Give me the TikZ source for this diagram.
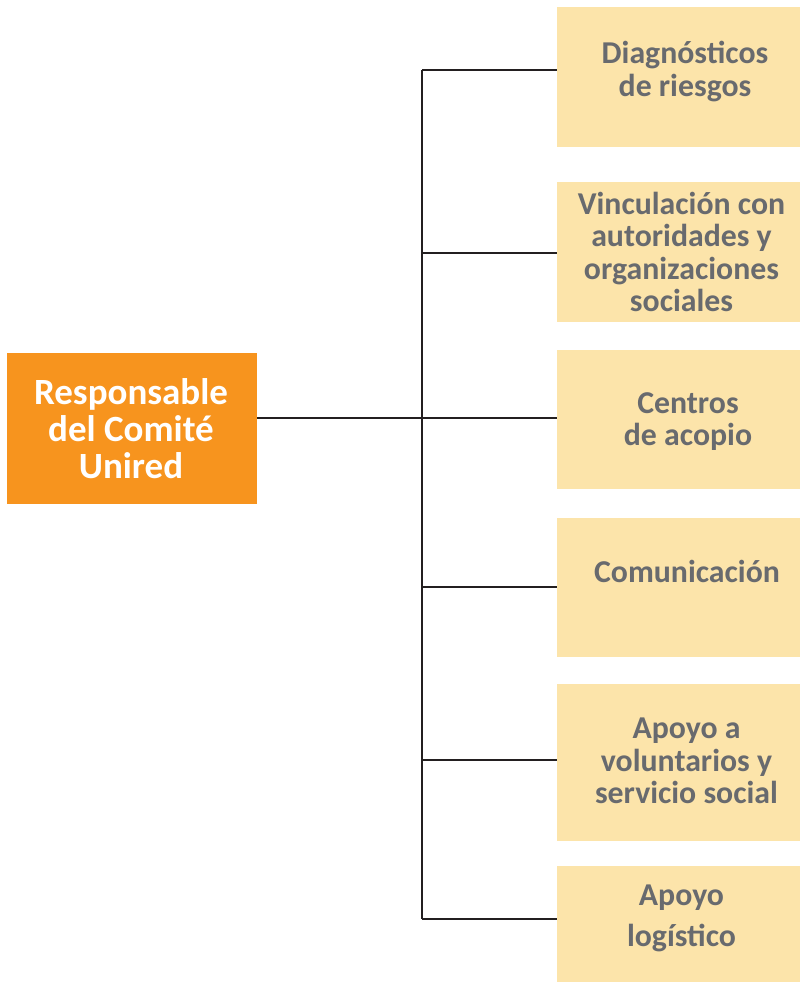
\documentclass[tikz,border=0pt]{standalone}
\usepackage{fontspec}
\setmainfont{Carlito}
\definecolor{boxfill}{RGB}{252,228,170}
\definecolor{orangefill}{RGB}{247,148,30}
\definecolor{txtgray}{RGB}{104,106,110}
\definecolor{linecol}{RGB}{35,31,32}
\tikzset{
  subbox/.style={rectangle, fill=boxfill, inner sep=0pt, minimum width=243pt},
  lbl/.style={align=center, inner sep=0pt, text=txtgray, font=\bfseries\fontsize{31.8}{32.5}\selectfont},
  headbox/.style={rectangle, fill=orangefill, inner sep=0pt, minimum width=250pt, minimum height=151pt},
  headlbl/.style={align=center, inner sep=0pt, text=white, font=\bfseries\fontsize{37}{37}\selectfont},
  conn/.style={draw=linecol, line width=2.3pt}
}
\begin{document}
\begin{tikzpicture}[x=1pt,y=-1pt]
\useasboundingbox (0,0) rectangle (800,982);
% head
\node[headbox] (org) at (132,428.5) {};
\node[headlbl] (orgt) at (131,428.5) {Responsable\\del Comité\\Unired};
% sub boxes
\node[subbox, minimum height=140pt] (b1) at (678.5,77) {};
\node[subbox, minimum height=140pt] (b2) at (678.5,252) {};
\node[subbox, minimum height=139pt] (b3) at (678.5,419.5) {};
\node[subbox, minimum height=139pt] (b4) at (678.5,587.5) {};
\node[subbox, minimum height=157pt] (b5) at (678.5,762.5) {};
\node[subbox, minimum height=116pt] (b6) at (678.5,924) {};
% labels
\node[lbl] (l1) at (685,71.5) {Diagnósticos\\de riesgos};
\node[lbl] (l2) at (681.5,252) {Vinculación con\\autoridades y\\organizaciones\\sociales};
\node[lbl] (l3) at (688,421.5) {Centros\\de acopio};
\node[lbl] (l4) at (687,571.5) {Comunicación};
\node[lbl] (l5) at (686.5,761) {Apoyo a\\voluntarios y\\servicio social};
\node[lbl] (l6) at (681.5,918.5) {Apoyo\\[8pt]logístico};
% trunk coordinates
\coordinate (t1) at (422,70);
\coordinate (t2) at (422,253);
\coordinate (t3) at (422,418);
\coordinate (t4) at (422,587);
\coordinate (t5) at (422,760);
\coordinate (t6) at (422,919);
\draw[conn] (t1) -- (t6);
\draw[conn] (t1) -- (t1 -| b1.west);
\draw[conn] (t2) -- (t2 -| b2.west);
\draw[conn] (t3 -| org.east) -- (t3 -| b3.west);
\draw[conn] (t4) -- (t4 -| b4.west);
\draw[conn] (t5) -- (t5 -| b5.west);
\draw[conn] (t6) -- (t6 -| b6.west);
\end{tikzpicture}
\end{document}
